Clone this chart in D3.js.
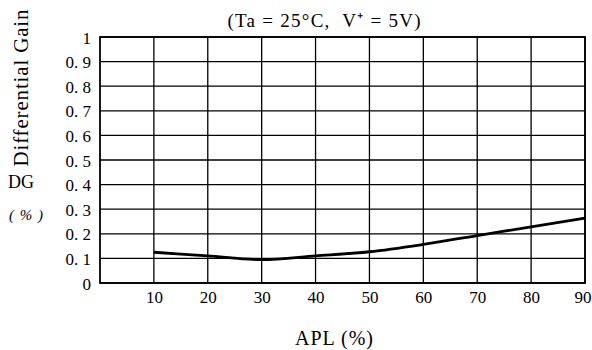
<!DOCTYPE html>
<html><head><meta charset="utf-8">
<script src="https://cdn.jsdelivr.net/npm/d3@7"></script>
<style>body{margin:0;background:#fff}svg{display:block}</style>
</head><body>
<script>
const apl = [10, 20, 30, 40, 50, 60, 70, 80, 90];
const dg = [0.125, 0.11, 0.095, 0.11, 0.127, 0.157, 0.193, 0.228, 0.264];
const xTicks = [10, 20, 30, 40, 50, 60, 70, 80, 90];
const yTicks = [0, 0.1, 0.2, 0.3, 0.4, 0.5, 0.6, 0.7, 0.8, 0.9, 1];
const yTickLabels = ["0", "0. 1", "0. 2", "0. 3", "0. 4", "0. 5", "0. 6", "0. 7", "0. 8", "0. 9", "1"];

const SERIF = "'Liberation Serif'";
const W = 592, H = 350;
const svg = d3.select("body").append("svg").attr("width", W).attr("height", H);
const x = d3.scaleLinear().domain([0, 90]).range([100, 585]);
const y = d3.scaleLinear().domain([0, 1]).range([283, 37]);

// grid
svg.append("g").selectAll("line").data(xTicks).join("line")
  .attr("x1", d => x(d)).attr("x2", d => x(d)).attr("y1", y(0)).attr("y2", y(1))
  .attr("stroke", "#000").attr("stroke-width", 1.3);
svg.append("g").selectAll("line").data(yTicks).join("line")
  .attr("x1", x(0)).attr("x2", x(90)).attr("y1", d => y(d)).attr("y2", d => y(d))
  .attr("stroke", "#000").attr("stroke-width", 1.3);
svg.append("rect").attr("x", x(0)).attr("y", y(1)).attr("width", x(90) - x(0)).attr("height", y(0) - y(1))
  .attr("fill", "none").attr("stroke", "#000").attr("stroke-width", 1.8);

// y axis
const yAxis = d3.axisLeft(y).tickValues(yTicks).tickSize(0).tickPadding(9)
  .tickFormat((d, i) => yTickLabels[i]);
const ya = svg.append("g").attr("transform", `translate(${x(0)},0)`).call(yAxis);
ya.attr("font-family", null);
ya.select(".domain").remove();
ya.selectAll("text").style("font-family", SERIF).style("font-size", "17px").attr("dy", "0.36em")
  .style("white-space", "pre").attr("fill", "#000");

// x axis
const xAxis = d3.axisBottom(x).tickValues(xTicks).tickSize(0).tickPadding(8);
const xa = svg.append("g").attr("transform", `translate(0,${y(0)})`).call(xAxis);
xa.attr("font-family", null);
xa.select(".domain").remove();
xa.selectAll("text").style("font-family", SERIF).style("font-size", "17px").attr("fill", "#000");
xa.selectAll(".tick").filter(d => d === 90).select("text").attr("text-anchor", "end").attr("x", 6);

// curve
const line = d3.line().x((d, i) => x(apl[i])).y(d => y(d)).curve(d3.curveMonotoneX);
svg.append("path").datum(dg).attr("d", line).attr("fill", "none").attr("stroke", "#000").attr("stroke-width", 2.8);

// texts
function txt(s, size, attrs, len) {
  const t = svg.append("text").style("font-family", SERIF).style("font-size", size + "px")
    .attr("text-anchor", "middle").attr("fill", "#000").style("white-space", "pre").text(s);
  Object.entries(attrs).forEach(([k, v]) => t.attr(k, v));
  if (len) t.attr("textLength", len).attr("lengthAdjust", "spacing");
  return t;
}
txt("(Ta = 25°C,  V⁺ = 5V)", 19, {x: 324, y: 27}, 193);
txt("Differential Gain", 21, {transform: "translate(28,88) rotate(-90)"}, 157);
txt("DG", 18, {x: 21, y: 188});
txt("( % )", 15, {x: 26, y: 220, "font-style": "italic"}, 34);
txt("APL (%)", 20, {x: 334, y: 345}, 78);
</script>
</body></html>
